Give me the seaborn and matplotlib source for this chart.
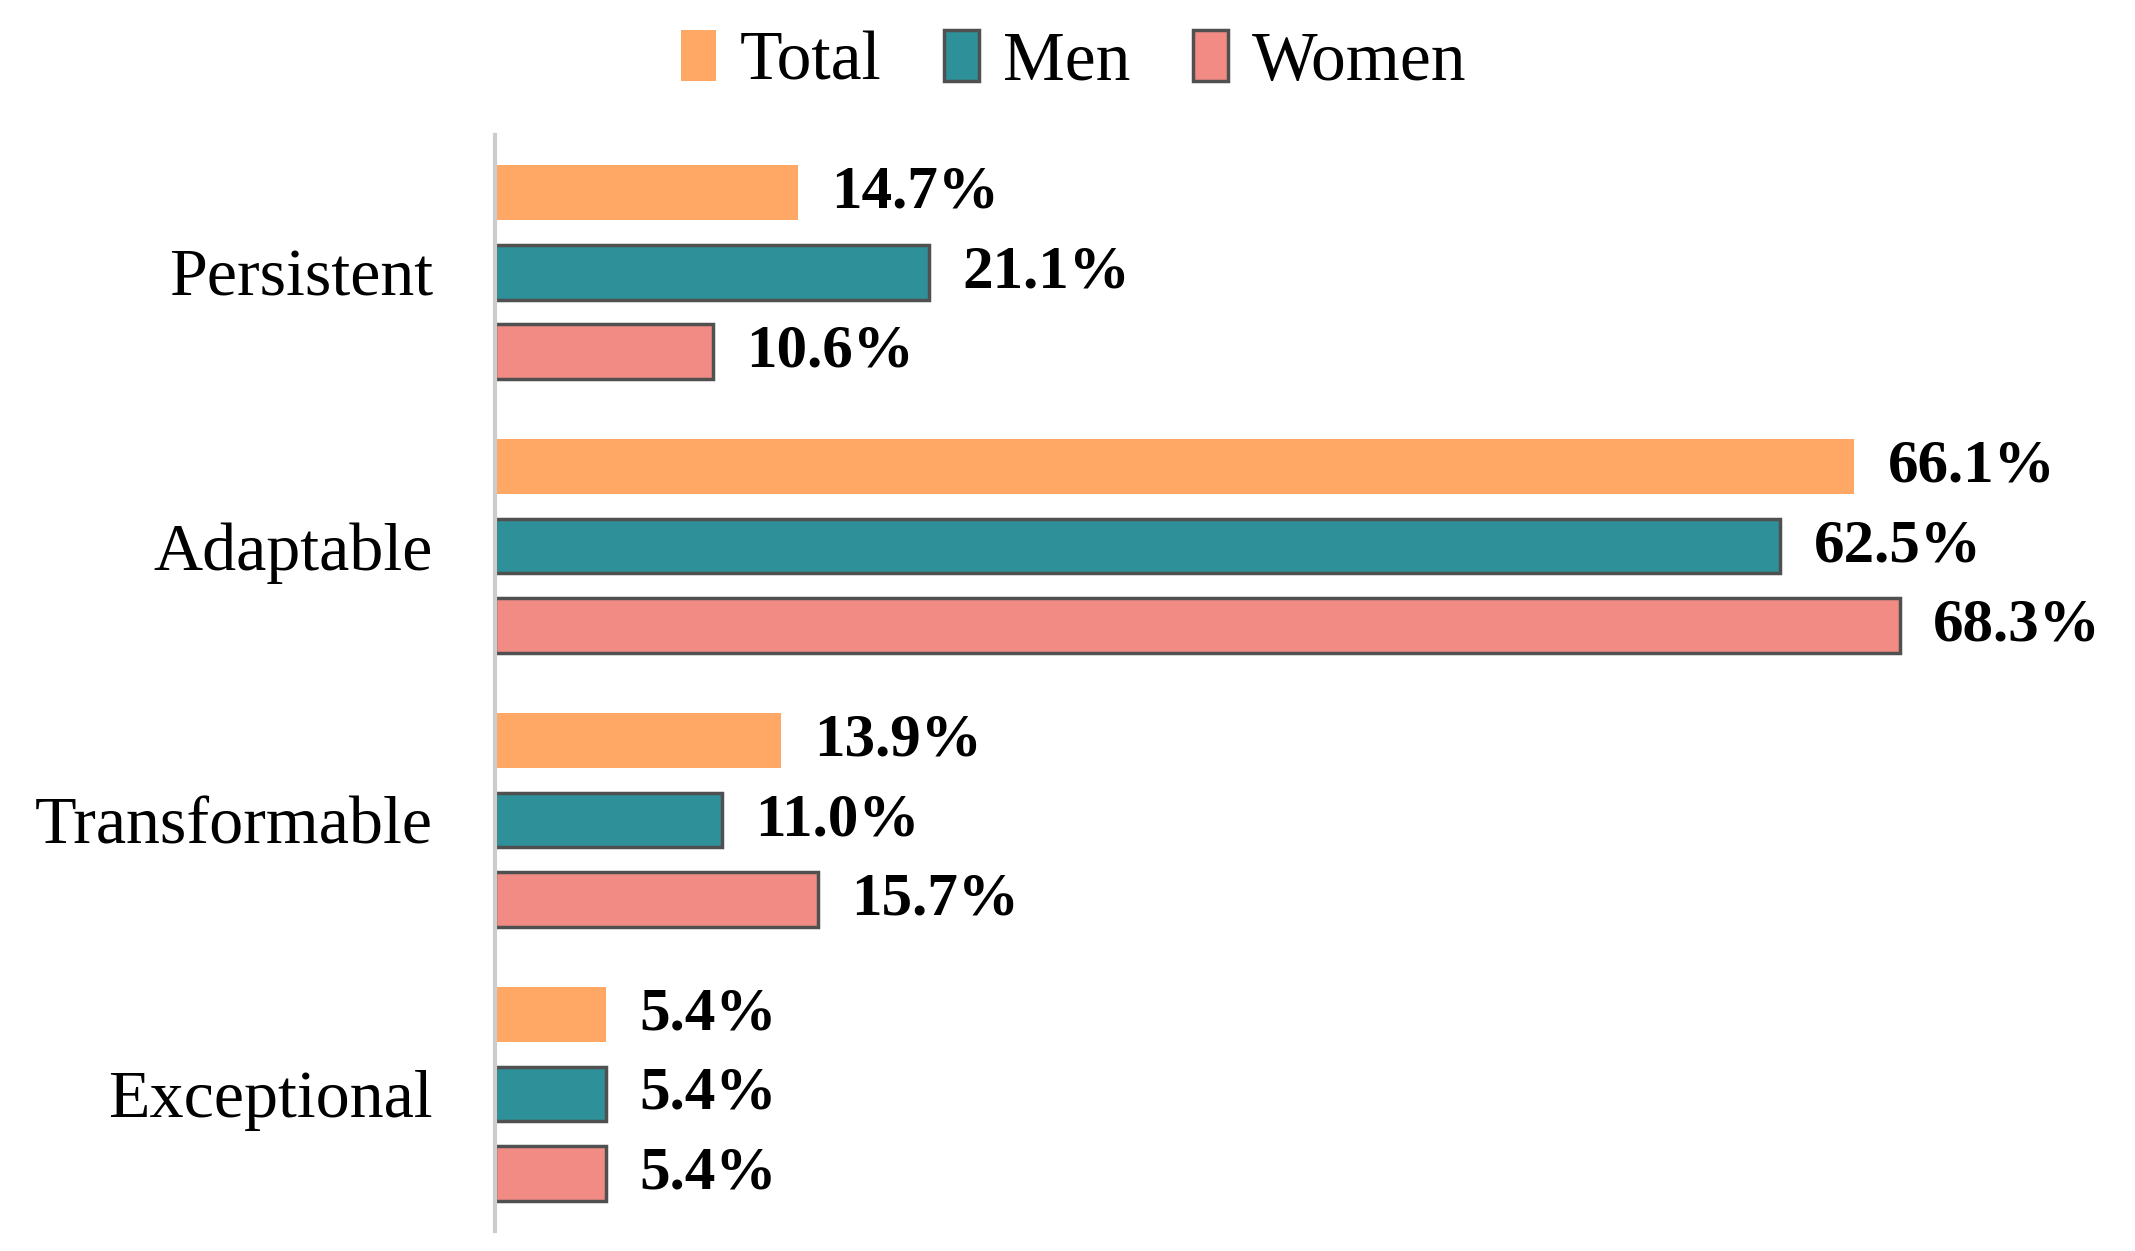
import numpy as np
import pandas as pd
import matplotlib
matplotlib.use("Agg")
import matplotlib.pyplot as plt
import seaborn as sns

# data
categories = ["Persistent", "Adaptable", "Transformable", "Exceptional"]
groups = ["Total", "Men", "Women"]
total = [14.7, 66.1, 13.9, 5.4]
men = [21.1, 62.5, 11.0, 5.4]
women = [10.6, 68.3, 15.7, 5.4]

colors = {"Total": "#FFA764", "Men": "#2E9199", "Women": "#F28B84"}
edges = {"Total": "none", "Men": "#505050", "Women": "#505050"}

df = pd.DataFrame({
    "category": categories * 3,
    "group": ["Total"] * 4 + ["Men"] * 4 + ["Women"] * 4,
    "value": total + men + women,
})

sns.set_style("white")
plt.rcParams["font.family"] = ["Liberation Serif", "DejaVu Serif"]

fig = plt.figure(figsize=(21.35, 12.51), dpi=100)
ax = fig.add_axes([0.232, 0.016, 0.757, 0.876])

sns.barplot(data=df, y="category", x="value", hue="group", order=categories,
            hue_order=groups, palette=colors, orient="h", width=0.87, gap=0.31,
            saturation=1, ax=ax, legend=True)

for cont, g in zip(ax.containers, groups):
    for bar in cont:
        bar.set_edgecolor(edges[g])
        bar.set_linewidth(2.5 if g != "Total" else 0)
    ax.bar_label(cont, labels=[f"{v:.1f}%" for v in cont.datavalues],
                 padding=24, fontsize=44, fontweight="bold", color="black")

ax.set_xlim(0, 78.6)
ax.set_ylim(3.5, -0.5)
ax.set_xlabel("")
ax.set_ylabel("")
ax.set_xticks([])
ax.tick_params(axis="y", length=0, pad=45, labelsize=49, labelcolor="black")
for s in ["top", "right", "bottom"]:
    ax.spines[s].set_visible(False)
ax.spines["left"].set_color("#cccccc")
ax.spines["left"].set_linewidth(3)

handles, labels = ax.get_legend_handles_labels()
ax.legend_.remove()
leg = fig.legend(handles, labels, loc="center", bbox_to_anchor=(0.503, 0.95), ncol=3,
                 frameon=False, fontsize=50, handlelength=0.5, handleheight=0.75,
                 handletextpad=0.35, columnspacing=0.9, labelcolor="black")
for h, g in zip(leg.legend_handles, groups):
    h.set_edgecolor(edges[g])
    h.set_linewidth(2.5 if g != "Total" else 0)

fig.savefig("out.png", dpi=100)
